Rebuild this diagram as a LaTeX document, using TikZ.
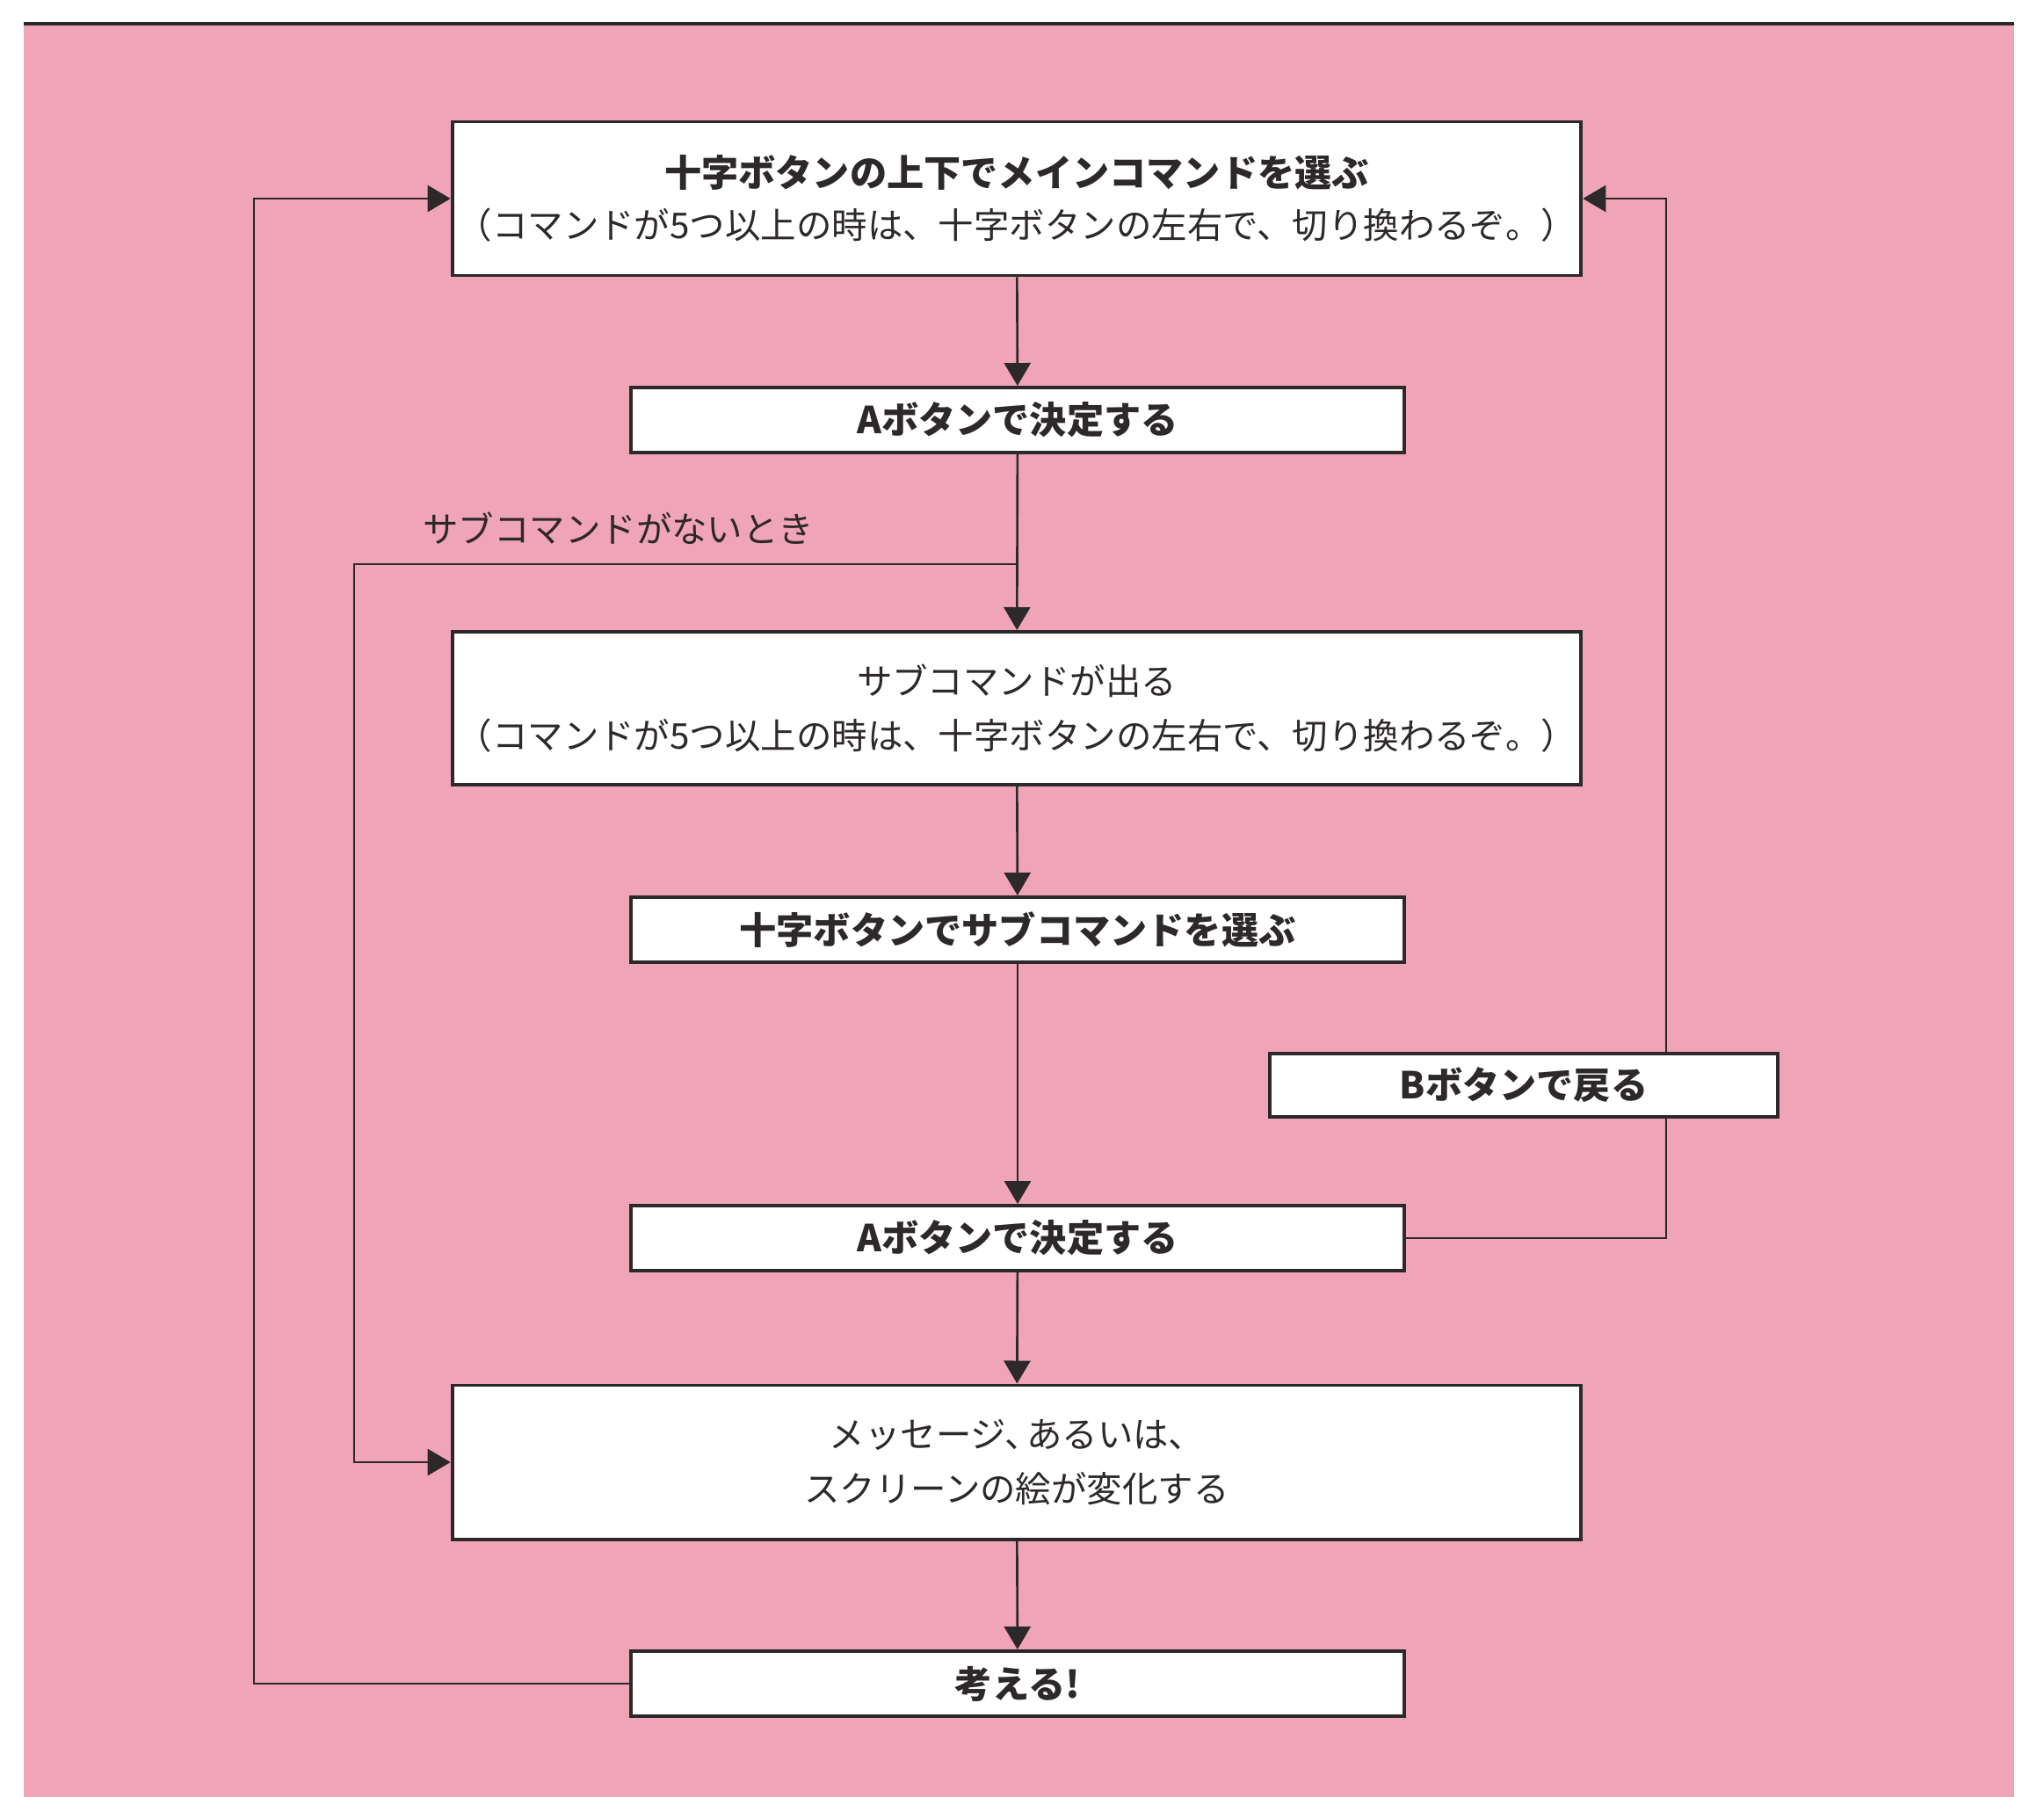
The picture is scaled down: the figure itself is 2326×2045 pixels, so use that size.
\documentclass[tikz,border=0pt]{standalone}
\usepackage{fontspec}
\newfontfamily\jp{Noto Sans CJK JP}
\usetikzlibrary{arrows.meta,calc}
\definecolor{pinkbg}{RGB}{240,164,184}
\definecolor{ink}{RGB}{45,40,42}
\pgfdeclarelayer{bg}
\pgfdeclarelayer{lines}
\pgfsetlayers{bg,lines,main}
\tikzset{
  box/.style={draw=ink, line width=1.1pt, fill=white, inner sep=0pt, align=center, text=ink},
  wide/.style={box, minimum width=12.84cm, minimum height=1.75cm},
  narrow/.style={box, minimum width=8.80cm, minimum height=0.74cm},
  bold/.style={font=\jp\bfseries\fontsize{12pt}{15pt}\selectfont},
  reg/.style={font=\jp\fontsize{11.5pt}{15.5pt}\selectfont},
  conn/.style={draw=ink, line width=0.75pt},
  arr/.style={conn, -{Triangle[length=0.26cm, width=0.30cm]}},
}
\begin{document}
\begin{tikzpicture}[x=0.01cm, y=-0.01cm]
\useasboundingbox (0,0) rectangle (2326,2045);
\begin{pgfonlayer}{bg}
  \fill[white] (0,0) rectangle (2326,2045);
  \fill[pinkbg] (27,27) rectangle (2292,2045);
  \draw[ink, line width=1.2pt] (27,27) -- (2292,27);
\end{pgfonlayer}

\node[wide, bold] (b1) at (1157,226) {十字ボタンの上下でメインコマンドを選ぶ\\[2pt]{\jp\mdseries\fontsize{11.5pt}{15pt}\selectfont （コマンドが5つ以上の時は、十字ボタンの左右で、切り換わるぞ。）}};
\node[narrow, bold] (b2) at (1158,478) {Aボタンで決定する};
\node[reg, text=ink, anchor=west] (lbl) at (469,601) {サブコマンドがないとき};
\node[wide, reg, minimum height=1.74cm] (b3) at (1157,806) {サブコマンドが出る\\[2pt]（コマンドが5つ以上の時は、十字ボタンの左右で、切り換わるぞ。）};
\node[narrow, bold] (b4) at (1158,1058) {十字ボタンでサブコマンドを選ぶ};
\node[box, bold, minimum width=5.77cm, minimum height=0.72cm] (b5) at (1734,1235) {Bボタンで戻る};
\node[narrow, bold] (b6) at (1158,1409) {Aボタンで決定する};
\node[wide, reg] (b7) at (1157,1664) {メッセージ、\kern-0.4em あるいは、\\[2pt]スクリーンの絵が変化する};
\node[narrow, bold] (b8) at (1158,1916) {考える!};

\coordinate (br) at (1157,642);
\coordinate (lx) at (289,0);
\coordinate (mx) at (403,0);
\coordinate (rx) at (1896,0);

\begin{pgfonlayer}{lines}
  \draw[arr] (b1) -- (b2);
  \draw[arr] (b2) -- (b3);
  \draw[arr] (br) -- (br -| mx) |- (b7.west);
  \draw[arr] (b3) -- (b4);
  \draw[arr] (b4) -- (b6);
  \draw[arr] (b6) -- (b7);
  \draw[arr] (b7) -- (b8);
  \draw[arr] (b8.west) -- (b8.west -| lx) |- (b1.west);
  \draw[arr] (b6.east) -- (b6.east -| rx) |- (b1.east);
\end{pgfonlayer}
\end{tikzpicture}
\end{document}
